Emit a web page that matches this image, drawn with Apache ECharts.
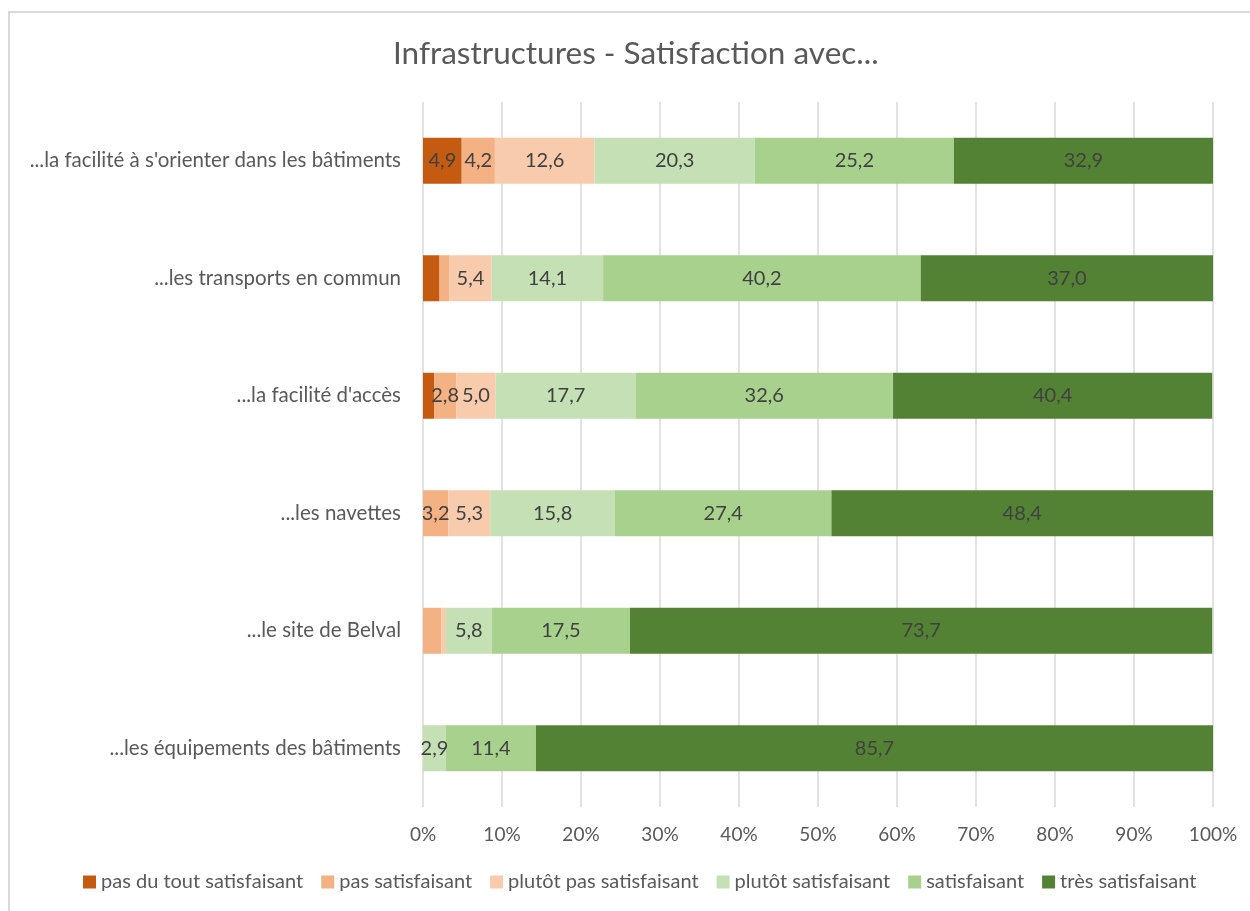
<!DOCTYPE html>
<html>
<head>
<meta charset="utf-8">
<script src="https://cdn.jsdelivr.net/npm/echarts@6/dist/echarts.min.js"></script>
<style>
  html, body { margin: 0; padding: 0; background: #fff; overflow: hidden; }
  .wrap { position: relative; width: 1250px; height: 911px; }
  #chart { width: 1250px; height: 911px; }
  /* cadre gris du graphique Excel, coupé à droite et en bas */
  .frame {
    position: absolute; left: 8px; top: 11px; width: 1300px; height: 950px;
    border-top: 2px solid #d9d9d9; border-left: 2px solid #d9d9d9;
    pointer-events: none;
  }
</style>
</head>
<body>
<div class="wrap">
  <div id="chart"></div>
  <div class="frame"></div>
</div>
<script>
// catégories, de haut en bas
var categories = [
  "...la facilité à s'orienter dans les bâtiments",
  '...les transports en commun',
  "...la facilité d'accès",
  '...les navettes',
  '...le site de Belval',
  '...les équipements des bâtiments'
]
var seriesNames = [
  'pas du tout satisfaisant',
  'pas satisfaisant',
  'plutôt pas satisfaisant',
  'plutôt satisfaisant',
  'satisfaisant',
  'très satisfaisant'
]
var pasDuTout = [4.9, 2.1, 1.4, 0, 0, 0]
var pasSatisf = [4.2, 1.2, 2.8, 3.2, 2.3, 0]
var plutotPas = [12.6, 5.4, 5.0, 5.3, 0.6, 0]
var plutotSatisf = [20.3, 14.1, 17.7, 15.8, 5.8, 2.9]
var satisf = [25.2, 40.2, 32.6, 27.4, 17.5, 11.4]
var tresSatisf = [32.9, 37.0, 40.4, 48.4, 73.7, 85.7]
var colors = ['#c55a11', '#f4b183', '#f8cbad', '#c5e0b4', '#a9d18e', '#548235']

var allValues = [pasDuTout, pasSatisf, plutotPas, plutotSatisf, satisf, tresSatisf]
var font = 'Lato, "Open Sans", sans-serif'

var chart = echarts.init(document.getElementById('chart'))
var series = allValues.map(function(vals, i) {
  return {
    name: seriesNames[i],
    type: 'bar',
    stack: 'total',
    barWidth: 46,
    itemStyle: { color: colors[i] },
    label: {
      show: true,
      color: '#404040',
      fontSize: 20,
      fontFamily: font,
      formatter: function(p) {
        // les petites valeurs n'ont pas d'étiquette dans l'original
        if (p.value < 2.5) return ''
        return p.value.toFixed(1).replace('.', ',')
      }
    },
    data: vals
  }
})

chart.setOption({
  backgroundColor: '#fff',
  textStyle: { fontFamily: font },
  title: {
    text: 'Infrastructures - Satisfaction avec...',
    left: 388,
    top: 33,
    textStyle: { color: '#595959', fontSize: 31.5, fontWeight: 'normal', fontFamily: font }
  },
  legend: {
    bottom: 14,
    left: 78,
    itemWidth: 13,
    itemHeight: 13,
    itemGap: 18,
    icon: 'rect',
    textStyle: { color: '#595959', fontSize: 20, fontFamily: font },
    data: seriesNames
  },
  grid: { left: 423, right: 37, top: 102, bottom: 104 },
  xAxis: {
    type: 'value',
    min: 0,
    max: 100,
    interval: 10,
    axisLine: { show: false },
    axisTick: { show: false },
    axisLabel: {
      color: '#595959',
      fontSize: 19,
      margin: 18,
      formatter: '{value}%'
    },
    splitLine: { lineStyle: { color: '#d9d9d9', width: 1.5 } }
  },
  yAxis: {
    type: 'category',
    inverse: true,
    data: categories,
    axisLine: { show: false },
    axisTick: { show: false },
    axisLabel: { color: '#595959', fontSize: 20.5, margin: 22 }
  },
  series: series
})
</script>
</body>
</html>
